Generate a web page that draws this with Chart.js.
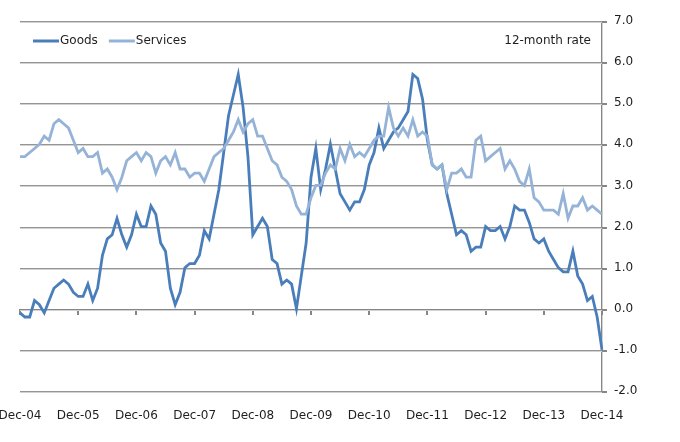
<!DOCTYPE html>
<html>
<head>
<meta charset="utf-8">
<script src="https://cdn.jsdelivr.net/npm/chart.js@4.4.0/dist/chart.umd.min.js"></script>
<style>
html,body{margin:0;padding:0;background:#ffffff;}
#wrap{width:680px;height:442px;position:relative;background:#ffffff;}
</style>
</head>
<body>
<div id="wrap"><canvas id="c" width="680" height="442"></canvas></div>
<script>
// ---- DATA ----
const monthNames = ['Jan','Feb','Mar','Apr','May','Jun','Jul','Aug','Sep','Oct','Nov','Dec'];
const startMonthIndex = 11;   // Dec
const startYear = 2004;
const pointCount = 121;       // Dec-04 .. Dec-14 (monthly)

const tickLabels = ['Dec-04','Dec-05','Dec-06','Dec-07','Dec-08','Dec-09','Dec-10','Dec-11','Dec-12','Dec-13','Dec-14'];

const seriesNames = ['Goods','Services'];

const goods = [
  -0.1,-0.2,-0.2,0.2,0.1,-0.1,0.2,0.5,0.6,0.7,0.6,0.4,
  0.3,0.3,0.6,0.2,0.5,1.3,1.7,1.8,2.2,1.8,1.5,1.8,
  2.3,2.0,2.0,2.5,2.3,1.6,1.4,0.5,0.1,0.4,1.0,1.1,
  1.1,1.3,1.9,1.7,2.3,2.9,3.8,4.7,5.2,5.7,4.9,3.7,
  1.8,2.0,2.2,2.0,1.2,1.1,0.6,0.7,0.6,0.0,0.8,1.6,
  3.2,3.9,2.9,3.4,4.0,3.4,2.8,2.6,2.4,2.6,2.6,2.9,
  3.5,3.8,4.4,3.9,4.1,4.3,4.4,4.6,4.8,5.7,5.6,5.1,
  4.1,3.5,3.4,3.5,2.8,2.3,1.8,1.9,1.8,1.4,1.5,1.5,
  2.0,1.9,1.9,2.0,1.7,2.0,2.5,2.4,2.4,2.1,1.7,1.6,
  1.7,1.4,1.2,1.0,0.9,0.9,1.4,0.8,0.6,0.2,0.3,-0.2,
  -1.0
];

const services = [
  3.7,3.7,3.8,3.9,4.0,4.2,4.1,4.5,4.6,4.5,4.4,4.1,
  3.8,3.9,3.7,3.7,3.8,3.3,3.4,3.2,2.9,3.2,3.6,3.7,
  3.8,3.6,3.8,3.7,3.3,3.6,3.7,3.5,3.8,3.4,3.4,3.2,
  3.3,3.3,3.1,3.4,3.7,3.8,3.9,4.1,4.3,4.6,4.3,4.5,
  4.6,4.2,4.2,3.9,3.6,3.5,3.2,3.1,2.9,2.5,2.3,2.3,
  2.7,3.0,3.0,3.3,3.5,3.4,3.9,3.6,4.0,3.7,3.8,3.7,
  3.9,4.1,4.2,4.2,4.9,4.4,4.2,4.4,4.2,4.6,4.2,4.3,
  4.2,3.5,3.4,3.5,2.9,3.3,3.3,3.4,3.2,3.2,4.1,4.2,
  3.6,3.7,3.8,3.9,3.4,3.6,3.4,3.1,3.0,3.4,2.7,2.6,
  2.4,2.4,2.4,2.3,2.8,2.2,2.5,2.5,2.7,2.4,2.5,2.4,
  2.3
];

const annotationText = '12-month rate';

// ---- categories built from month names ----
const categories = [];
for (let i = 0; i < pointCount; i++) {
  const m = (startMonthIndex + i) % 12;
  const y = startYear + Math.floor((startMonthIndex + i) / 12);
  categories.push(monthNames[m] + '-' + String(y % 100).padStart(2, '0'));
}

// ---- styles ----
const FONT = "'DejaVu Sans', sans-serif";
const TEXT_COLOR = '#1e1e1e';
const GOODS_COLOR = '#4a7ebb';
const SERVICES_COLOR = '#95b3d7';
const GRID_COLOR = '#959595';
const GRID_SOFT = '#d2d2d2';
const AXIS_COLOR = '#868686';

const overlayPlugin = {
  id: 'overlay',
  afterDraw(chart) {
    const ctx = chart.ctx;
    const xs = chart.scales.x, ys = chart.scales.y;
    const area = chart.chartArea;

    ctx.save();
    ctx.font = '12px ' + FONT;
    ctx.fillStyle = TEXT_COLOR;
    ctx.textBaseline = 'middle';
    const ly = 41;
    let lx = 33;
    const sampleW = 26;
    chart.data.datasets.slice().sort((a,b)=>a.legendIndex-b.legendIndex).forEach(ds => {
      ctx.strokeStyle = ds.borderColor;
      ctx.lineWidth = 3;
      ctx.beginPath();
      ctx.moveTo(lx, ly);
      ctx.lineTo(lx + sampleW, ly);
      ctx.stroke();
      ctx.textAlign = 'left';
      ctx.fillText(ds.label, lx + sampleW + 1, ly);
      lx += sampleW + 1 + ctx.measureText(ds.label).width + 11;
    });
    ctx.textAlign = 'right';
    ctx.fillText(annotationText, area.right - 11, 41);
    ctx.restore();

    // gridlines, zero axis line and tick marks, painted beneath existing content
    ctx.save();
    ctx.globalCompositeOperation = 'destination-over';
    ys.ticks.forEach(t => {
      const y = Math.round(ys.getPixelForValue(t.value));
      ctx.fillStyle = t.value === 0 ? AXIS_COLOR : GRID_COLOR;
      ctx.fillRect(area.left, y, area.right - area.left, 1);
      ctx.fillStyle = GRID_SOFT;
      ctx.fillRect(area.left, y + 1, area.right - area.left, 1);
      ctx.fillStyle = AXIS_COLOR;
      ctx.fillRect(area.right, y, 5, 2);
    });
    const y0 = Math.round(ys.getPixelForValue(0));
    ctx.fillStyle = AXIS_COLOR;
    categories.forEach((c, i) => {
      if (tickLabels.includes(c)) {
        const x = Math.round(xs.getPixelForValue(i));
        ctx.fillRect(x - 1, y0, 2, 6);
      }
    });
    ctx.fillStyle = AXIS_COLOR;
    ctx.fillRect(Math.round(area.right) - 1, area.top, 1, area.bottom - area.top + 2);
    ctx.fillStyle = GRID_SOFT;
    ctx.fillRect(Math.round(area.right), area.top, 1, area.bottom - area.top + 2);
    ctx.restore();
  }
};

new Chart(document.getElementById('c'), {
  type: 'line',
  data: {
    labels: categories,
    datasets: [
      { label: seriesNames[0], data: goods, borderColor: GOODS_COLOR, borderWidth: 2.8,
        pointRadius: 0, tension: 0, fill: false, order: 2, legendIndex: 0 },
      { label: seriesNames[1], data: services, borderColor: SERVICES_COLOR, borderWidth: 2.8,
        pointRadius: 0, tension: 0, fill: false, order: 1, legendIndex: 1 }
    ]
  },
  options: {
    responsive: false,
    animation: false,
    devicePixelRatio: 1,
    layout: { padding: { top: 21, left: 20, right: 0, bottom: 0 } },
    plugins: { legend: { display: false }, tooltip: { enabled: false } },
    scales: {
      x: {
        type: 'category',
        offset: false,
        grid: { display: false },
        border: { display: false },
        ticks: {
          autoSkip: false, maxRotation: 0, minRotation: 0,
          color: TEXT_COLOR, font: { family: FONT, size: 12 }, padding: 10,
          callback: function(v, i) { const l = categories[i]; return tickLabels.includes(l) ? l : ''; }
        },
        afterFit(scale) { scale.height = 51; scale.paddingLeft = 0; scale.paddingRight = 0; }
      },
      y: {
        position: 'right',
        min: -2, max: 7,
        grid: { display: false, drawTicks: false },
        border: { display: false },
        ticks: {
          stepSize: 1, color: TEXT_COLOR, font: { family: FONT, size: 12 }, padding: 12,
          callback: (v) => Number(v).toFixed(1)
        },
        afterFit(scale) { scale.width = 78; scale.paddingTop = 0; scale.paddingBottom = 0; }
      }
    }
  },
  plugins: [overlayPlugin]
});
</script>
</body>
</html>
